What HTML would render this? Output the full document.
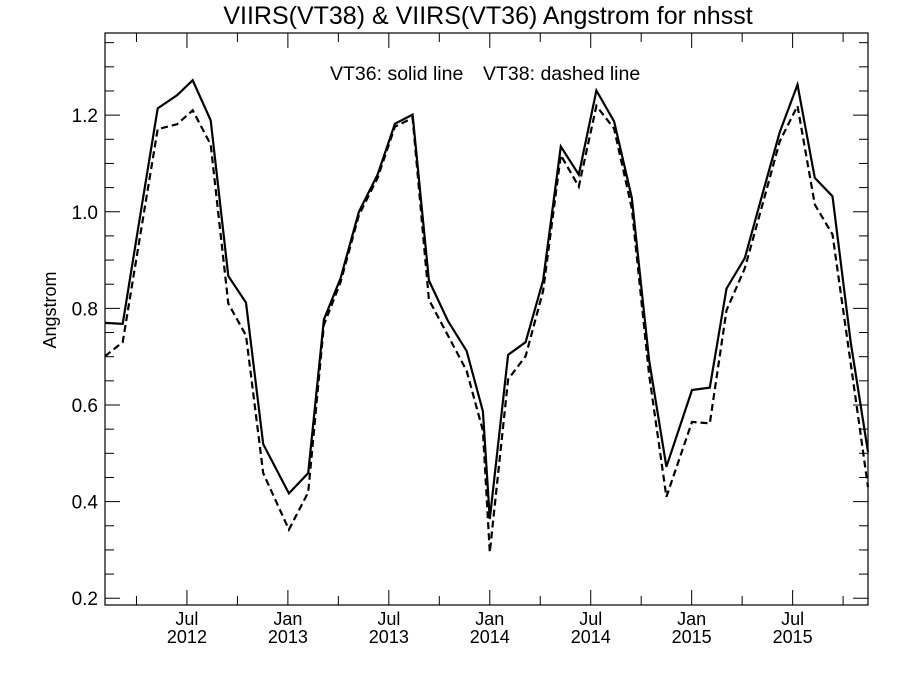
<!DOCTYPE html>
<html><head><meta charset="utf-8"><style>
body{margin:0;background:#fff}
svg{display:block;font-family:"Liberation Sans",sans-serif}
</style></head><body>
<svg id="chart" width="900" height="675">
<text x="488" y="24" text-anchor="middle" font-size="25">VIIRS(VT38) &amp; VIIRS(VT36)  Angstrom for nhsst</text>
<text x="330" y="80" font-size="19.5">VT36: solid line</text>
<text x="483" y="80" font-size="19.5">VT38: dashed line</text>
<text transform="translate(56,310) rotate(-90)" text-anchor="middle" font-size="18">Angstrom</text>
<g id="axes"></g>
<g id="series"></g>
</svg>
<script>
const months=[1.13,2.18,3.2,4.26,5.41,6.34,7.41,8.46,9.51,10.53,12.06,13.21,14.14,15.13,16.22,17.33,18.36,19.41,20.38,21.51,22.62,23.59,24.0,25.09,26.13,27.17,28.22,29.29,30.34,31.39,32.44,33.47,34.5,36.02,37.08,38.07,39.16,40.21,41.24,42.29,43.32,44.37,45.45,46.48];
const vt36=[0.770,0.768,0.987,1.214,1.241,1.272,1.189,0.867,0.812,0.519,0.417,0.459,0.777,0.862,1.000,1.077,1.182,1.201,0.858,0.774,0.712,0.587,0.364,0.704,0.730,0.858,1.135,1.077,1.251,1.187,1.029,0.693,0.472,0.631,0.636,0.841,0.904,1.037,1.165,1.263,1.070,1.032,0.730,0.503];
const vt38=[0.701,0.730,0.946,1.171,1.181,1.210,1.139,0.810,0.744,0.459,0.342,0.419,0.766,0.854,0.993,1.070,1.176,1.194,0.818,0.744,0.671,0.547,0.295,0.653,0.701,0.836,1.117,1.052,1.219,1.172,1.007,0.663,0.410,0.565,0.562,0.796,0.883,1.015,1.146,1.219,1.015,0.953,0.686,0.430];
const yTicks=[0.2,0.4,0.6,0.8,1.0,1.2];
const yTickLabels=["0.2","0.4","0.6","0.8","1.0","1.2"];
const xTickMonths=[6,12,18,24,30,36,42];
const xTickLabels=[["Jul","2012"],["Jan","2013"],["Jul","2013"],["Jan","2014"],["Jul","2014"],["Jan","2015"],["Jul","2015"]];
const L=105,R=868,T=33,B=605;
const xMin=1.13,xMax=46.48,yMin=0.186,yMax=1.370;
const X=m=>L+(m-xMin)/(xMax-xMin)*(R-L);
const Y=v=>B-(v-yMin)/(yMax-yMin)*(B-T);
const NS="http://www.w3.org/2000/svg";
function mk(tag,attrs,parent){const e=document.createElementNS(NS,tag);for(const k in attrs)e.setAttribute(k,attrs[k]);parent.appendChild(e);return e;}
const ax=document.getElementById('axes');
const frame=mk('rect',{x:L,y:T,width:R-L,height:B-T,fill:'none',stroke:'#000','stroke-width':1.2},ax);


for(let v=0.2;v<=1.36;v+=0.05){
  const major=Math.abs(Math.round(v*5)-v*5)<1e-6;
  const len=major?15:9,y=Y(v);
  const t1=mk('line',{x1:L,x2:L+len,y1:y,y2:y,stroke:'#000'},ax);
  
  
  const t2=mk('line',{x1:R,x2:R-len,y1:y,y2:y,stroke:'#000'},ax);
  
  
}
yTicks.forEach((v,i)=>{
  const t=mk('text',{x:L-7,y:Y(v)+7,'text-anchor':'end','font-size':19},ax);
  t.textContent=yTickLabels[i];
  
  
});
for(let m=3;m<=45;m+=3){
  const major=m%6===0,len=major?15:9,x=X(m);
  const t1=mk('line',{x1:x,x2:x,y1:B,y2:B-len,stroke:'#000'},ax);
  
  
  const t2=mk('line',{x1:x,x2:x,y1:T,y2:T+len,stroke:'#000'},ax);
  
  
}
xTickMonths.forEach((m,i)=>{
  const t=mk('text',{x:X(m),y:625,'text-anchor':'middle','font-size':18},ax);
  t.textContent=xTickLabels[i][0];
  
  
  const t2=mk('text',{x:X(m),y:643,'text-anchor':'middle','font-size':18},ax);
  t2.textContent=xTickLabels[i][1];
  
  
});
const sg=document.getElementById('series');
const pts=a=>months.map((m,i)=>X(m).toFixed(1)+','+Y(a[i]).toFixed(1)).join(' ');
const p1=mk('polyline',{points:pts(vt36),fill:'none',stroke:'#000','stroke-width':2.2,'stroke-linejoin':'miter'},sg);


const p2=mk('polyline',{points:pts(vt38),fill:'none',stroke:'#000','stroke-width':2.2,'stroke-dasharray':'7,4'},sg);


</script>
</body></html>
